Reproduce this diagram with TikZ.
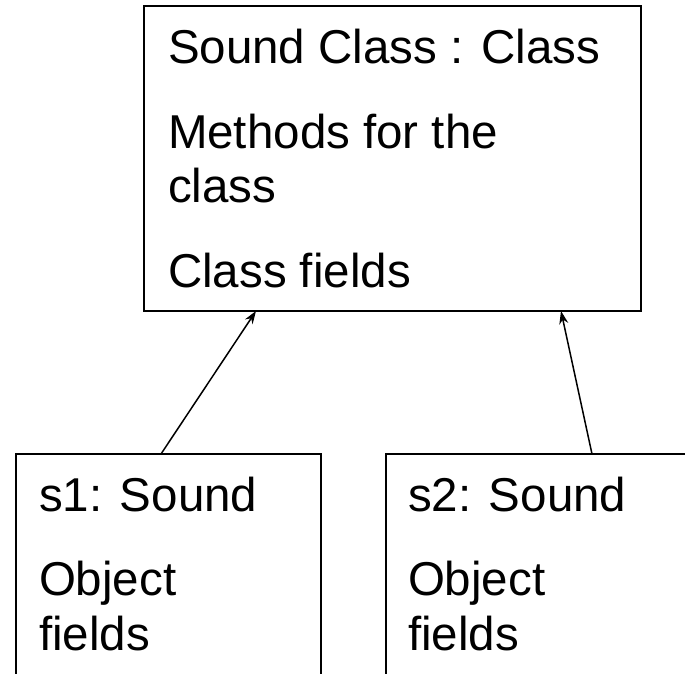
\documentclass[tikz,border=0pt]{standalone}
\usepackage{fontspec}
\setmainfont{Liberation Sans}
\usetikzlibrary{arrows.meta}

\tikzset{
  umlbox/.style={draw=black, line width=2pt, rectangle, inner sep=0pt, outer sep=0pt,
                 anchor=north west, minimum width=#1},
  umlbox/.default=305pt,
  label text/.style={anchor=base west, inner sep=0pt, outer sep=0pt,
                     font=\fontsize{47.5}{54}\selectfont},
  link/.style={line width=1.5pt, -{Stealth[length=13pt, width=9pt]}}
}

\begin{document}
\begin{tikzpicture}[x=1pt, y=-1pt]
  % page area, everything outside it is cut away
  \clip (0,0) rectangle (685,673);
  \fill[white] (0,0) rectangle (685,673);

  % class box
  \node[umlbox=497pt, minimum height=305pt] (cls) at (144,6) {};
  \node[label text] (clsname) at (168,63)  {Sound Class : Class};
  \node[label text] (clsm1)   at (168,148) {Methods for the};
  \node[label text] (clsm2)   at (168,202) {class};
  \node[label text] (clsf)    at (168,287) {Class fields};

  % instance boxes (they run past the lower page edge)
  \node[umlbox, minimum height=320pt] (s1) at (16,454) {};
  \node[label text] (s1name) at (39,511) {s1: Sound};
  \node[label text] (s1f1)   at (39,595) {Object};
  \node[label text] (s1f2)   at (39,650) {fields};

  \node[umlbox, minimum height=320pt] (s2) at (386,454) {};
  \node[label text] (s2name) at (408,511) {s2: Sound};
  \node[label text] (s2f1)   at (408,595) {Object};
  \node[label text] (s2f2)   at (408,650) {fields};

  % instance-of links
  \draw[link] ([xshift=145pt]s1.north west) -- ([xshift=112pt]cls.south west);
  \draw[link] ([xshift=206pt]s2.north west) -- ([xshift=417pt]cls.south west);
\end{tikzpicture}
\end{document}
